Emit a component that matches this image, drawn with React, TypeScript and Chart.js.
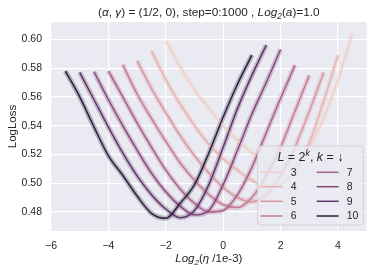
import React, { useEffect, useRef } from "react";
import { Chart, registerables } from "chart.js";

Chart.register(...registerables);

// Learning-rate grid: Log2(eta / 1e-3)
const lrGrid = [-5.5, -5.0, -4.5, -4.0, -3.5, -3.0, -2.5, -2.0, -1.5, -1.0, -0.5, 0.0, 0.5, 1.0, 1.5, 2.0, 2.5, 3.0, 3.5, 4.0, 4.5];

const kLevels = [3, 4, 5, 6, 7, 8, 9, 10];

const N = null;
const lossK3 = [N, N, N, N, N, N, N, 0.599, 0.581, 0.565, 0.552, 0.540, 0.530, 0.521, 0.514, 0.510, 0.513, 0.525, 0.545, 0.572, 0.604];
const lossK4 = [N, N, N, N, N, N, 0.592, 0.572, 0.555, 0.540, 0.527, 0.517, 0.509, 0.502, 0.498, 0.499, 0.508, 0.528, 0.557, 0.589, N];
const lossK5 = [N, N, N, N, N, 0.585, 0.566, 0.549, 0.533, 0.519, 0.507, 0.497, 0.490, 0.487, 0.492, 0.505, 0.525, 0.550, 0.577, N, N];
const lossK6 = [N, N, N, N, 0.5824, 0.562, 0.545, 0.529, 0.514, 0.502, 0.492, 0.485, 0.483, 0.490, 0.505, 0.525, 0.550, 0.575, N, N, N];
const lossK7 = [N, N, N, 0.578, 0.560, 0.542, 0.525, 0.509, 0.496, 0.486, 0.480, 0.481, 0.492, 0.511, 0.535, 0.559, 0.582, N, N, N, N];
const lossK8 = [N, N, 0.5775, 0.558, 0.540, 0.523, 0.507, 0.494, 0.484, 0.478, 0.481, 0.499, 0.523, 0.548, 0.570, 0.593, N, N, N, N, N];
const lossK9 = [N, 0.577, 0.558, 0.539, 0.521, 0.505, 0.492, 0.482, 0.476, 0.481, 0.499, 0.525, 0.552, 0.575, 0.596, N, N, N, N, N, N];
const lossK10 = [0.578, 0.560, 0.539, 0.519, 0.5055, 0.491, 0.479, 0.4755, 0.486, 0.499, 0.521, 0.546, 0.569, 0.589, N, N, N, N, N, N, N];

const seriesByK = [lossK3, lossK4, lossK5, lossK6, lossK7, lossK8, lossK9, lossK10];

const palette = ["#efcfc6", "#e6b3ae", "#d8969f", "#c57a93", "#a8608a", "#87497c", "#5f3568", "#2d1e3e"];

const xTicks = [-6, -4, -2, 0, 2, 4];
const yTicks = [0.48, 0.5, 0.52, 0.54, 0.56, 0.58, 0.6];

const FONT = "'Liberation Sans', Arial, Helvetica, sans-serif";
const TEXT = "#262626";

type Seg = { t: string; it?: boolean; sub?: boolean; sup?: boolean };

function drawRich(ctx: CanvasRenderingContext2D, segs: Seg[], cx: number, baseline: number, size: number) {
  const fontOf = (s: Seg) => {
    const sz = s.sub || s.sup ? size * 0.7 : size;
    return `${s.it ? "italic " : ""}${sz}px ${FONT}`;
  };
  let total = 0;
  for (const s of segs) {
    ctx.font = fontOf(s);
    total += ctx.measureText(s.t).width;
  }
  let x = cx - total / 2;
  ctx.textAlign = "left";
  ctx.textBaseline = "alphabetic";
  for (const s of segs) {
    ctx.font = fontOf(s);
    const dy = s.sub ? size * 0.25 : s.sup ? -size * 0.4 : 0;
    ctx.fillText(s.t, x, baseline + dy);
    x += ctx.measureText(s.t).width;
  }
}

function hexA(hex: string, a: number) {
  const r = parseInt(hex.slice(1, 3), 16);
  const g = parseInt(hex.slice(3, 5), 16);
  const b = parseInt(hex.slice(5, 7), 16);
  return `rgba(${r},${g},${b},${a})`;
}

const decorPlugin = {
  id: "decor",
  beforeDraw(chart: any) {
    const { ctx, chartArea: a } = chart;
    ctx.save();
    ctx.fillStyle = "#ffffff";
    ctx.fillRect(0, 0, chart.width, chart.height);
    ctx.fillStyle = "#eaeaf2";
    ctx.fillRect(a.left, a.top, a.right - a.left, a.bottom - a.top);
    ctx.restore();
  },
  afterDraw(chart: any) {
    const { ctx, chartArea: a } = chart;
    ctx.save();
    ctx.fillStyle = TEXT;
    // Title
    drawRich(
      ctx,
      [
        { t: "(" },
        { t: "α", it: true },
        { t: ", " },
        { t: "γ", it: true },
        { t: ") = (1/2, 0), step=0:1000 , " },
        { t: "Log", it: true },
        { t: "2", it: true, sub: true },
        { t: "(" },
        { t: "a", it: true },
        { t: ")=1.0" },
      ],
      (a.left + a.right) / 2,
      16,
      11.8
    );
    // X title
    drawRich(
      ctx,
      [{ t: "Log", it: true }, { t: "2", it: true, sub: true }, { t: "(" }, { t: "η", it: true }, { t: " /1e-3)" }],
      (a.left + a.right) / 2,
      262,
      11.5
    );
    // Y title
    ctx.save();
    ctx.translate(16, (a.top + a.bottom) / 2);
    ctx.rotate(-Math.PI / 2);
    drawRich(ctx, [{ t: "LogLoss" }], 0, 0, 11.5);
    ctx.restore();

    // Legend
    const lx = 257.5, ly = 146, lw = 106, lh = 79;
    ctx.beginPath();
    const r = 3;
    ctx.moveTo(lx + r, ly);
    ctx.arcTo(lx + lw, ly, lx + lw, ly + lh, r);
    ctx.arcTo(lx + lw, ly + lh, lx, ly + lh, r);
    ctx.arcTo(lx, ly + lh, lx, ly, r);
    ctx.arcTo(lx, ly, lx + lw, ly, r);
    ctx.closePath();
    ctx.fillStyle = "rgba(234,234,242,0.8)";
    ctx.fill();
    ctx.strokeStyle = "rgba(204,204,204,0.8)";
    ctx.lineWidth = 1;
    ctx.stroke();

    ctx.fillStyle = TEXT;
    drawRich(
      ctx,
      [
        { t: "L", it: true },
        { t: " = 2" },
        { t: "k", it: true, sup: true },
        { t: ", " },
        { t: "k", it: true },
        { t: " = ↓" },
      ],
      lx + lw / 2,
      161,
      12.5
    );
    const lineDs = chart.data.datasets.filter((d: any) => d.isMain);
    const rowsY = [172.3, 186.7, 201.3, 216];
    lineDs.forEach((d: any, i: number) => {
      const col = Math.floor(i / 4);
      const row = i % 4;
      const y = rowsY[row];
      const x0 = col === 0 ? 260.7 : 316.7;
      ctx.strokeStyle = d.borderColor;
      ctx.lineWidth = 1.5;
      ctx.beginPath();
      ctx.moveTo(x0, y);
      ctx.lineTo(x0 + 22, y);
      ctx.stroke();
      ctx.fillStyle = TEXT;
      ctx.font = `10.5px ${FONT}`;
      ctx.textAlign = "left";
      ctx.textBaseline = "middle";
      ctx.fillText(d.label, x0 + 30, y + 0.5);
    });
    ctx.restore();
  },
};

export default function App() {
  const ref = useRef<HTMLCanvasElement>(null);
  useEffect(() => {
    document.body.style.margin = "0";
    const datasets: any[] = [];
    kLevels.forEach((k, i) => {
      const pts = lrGrid.map((x, j) => ({ x, y: seriesByK[i][j] })).filter((p) => p.y !== null);
      datasets.push({
        label: String(k),
        isMain: false,
        data: pts,
        borderColor: hexA(palette[i], 0.28),
        borderWidth: 5,
        pointRadius: 0,
        cubicInterpolationMode: "monotone",
        order: 100 + (10 - k),
      });
      datasets.push({
        label: String(k),
        isMain: true,
        data: pts,
        borderColor: palette[i],
        borderWidth: 1.5,
        pointRadius: 0,
        cubicInterpolationMode: "monotone",
        order: 10 - k,
      });
    });
    const chart = new Chart(ref.current!, {
      type: "line",
      data: { datasets },
      options: {
        animation: false,
        responsive: false,
        maintainAspectRatio: false,
        layout: { padding: { top: 22, right: 7.3, left: 0, bottom: 0 } },
        plugins: { legend: { display: false }, tooltip: { enabled: false }, title: { display: false } },
        scales: {
          x: {
            type: "linear",
            min: -6,
            max: 5,
            afterFit: (s: any) => {
              s.height = 42;
            },
            afterBuildTicks: (s: any) => {
              s.ticks = xTicks.map((v) => ({ value: v }));
            },
            grid: { color: "#ffffff", lineWidth: 1.2, drawTicks: false },
            border: { display: false },
            ticks: {
              padding: 9,
              color: TEXT,
              font: { family: FONT, size: 10.5 },
              callback: (v: any) => String(v).replace("-", "\u2212"),
            },
          },
          y: {
            type: "linear",
            min: 0.4667,
            max: 0.6121,
            afterFit: (s: any) => {
              s.width = 51;
            },
            afterBuildTicks: (s: any) => {
              s.ticks = yTicks.map((v) => ({ value: v }));
            },
            grid: { color: "#ffffff", lineWidth: 1.2, drawTicks: false },
            border: { display: false },
            ticks: {
              padding: 9,
              color: TEXT,
              font: { family: FONT, size: 10.5 },
              callback: (v: any) => Number(v).toFixed(2),
            },
          },
        },
      } as any,
      plugins: [decorPlugin],
    });
    return () => chart.destroy();
  }, []);
  return (
    <div style={{ width: 374, height: 273 }}>
      <canvas ref={ref} width={374} height={273} style={{ display: "block", width: 374, height: 273 }} />
    </div>
  );
}
